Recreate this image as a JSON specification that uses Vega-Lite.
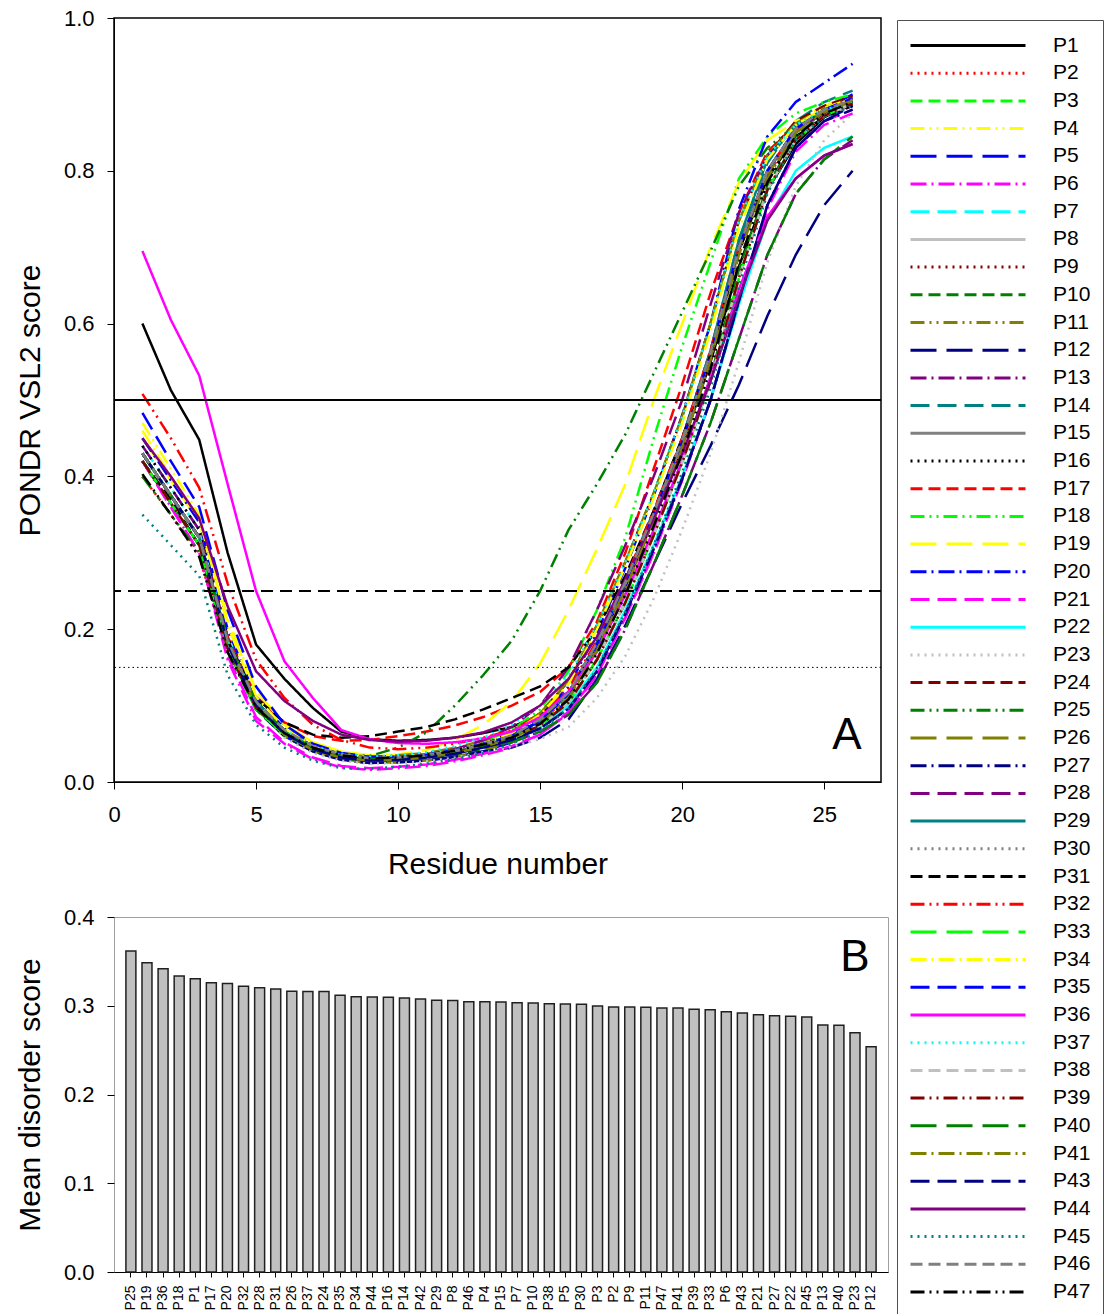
{
"$schema":"https://vega.github.io/schema/vega-lite/v6.json",
"background":"white",
"padding":{"left":14,"top":6,"right":0,"bottom":0},
"config":{"font":"Liberation Sans","axis":{"domainColor":"#000","tickColor":"#000","labelColor":"#000","titleColor":"#000","titleFontWeight":"normal","grid":false,"labelFontSize":22,"titleFontSize":30,"tickSize":7,"labelFont":"Liberation Sans","titleFont":"Liberation Sans","labelFlush":false},"legend":{"labelFont":"Liberation Sans"}},
"datasets":{
"curves":[
{"r":1,"P1":0.6,"P2":0.4,"P3":0.42,"P4":0.47,"P5":0.43,"P6":0.42,"P7":0.44,"P8":0.43,"P9":0.42,"P10":0.42,"P11":0.43,"P12":0.42,"P13":0.44,"P14":0.43,"P15":0.43,"P16":0.44,"P17":0.43,"P18":0.43,"P19":0.45,"P20":0.45,"P21":0.42,"P22":0.43,"P23":0.43,"P24":0.43,"P25":0.4,"P26":0.43,"P27":0.43,"P28":0.43,"P29":0.43,"P30":0.42,"P31":0.42,"P32":0.508,"P33":0.42,"P34":0.46,"P35":0.483,"P36":0.695,"P37":0.43,"P38":0.43,"P39":0.42,"P40":0.43,"P41":0.43,"P43":0.43,"P44":0.45,"P45":0.35,"P46":0.43,"P47":0.403},
{"r":2,"P1":0.513,"P2":0.35,"P3":0.365,"P4":0.41,"P5":0.375,"P6":0.36,"P7":0.385,"P8":0.375,"P9":0.365,"P10":0.365,"P11":0.375,"P12":0.365,"P13":0.385,"P14":0.375,"P15":0.375,"P16":0.385,"P17":0.375,"P18":0.375,"P19":0.395,"P20":0.395,"P21":0.36,"P22":0.375,"P23":0.375,"P24":0.375,"P25":0.35,"P26":0.375,"P27":0.375,"P28":0.375,"P29":0.375,"P30":0.365,"P31":0.37,"P32":0.45,"P33":0.365,"P34":0.4,"P35":0.42,"P36":0.605,"P37":0.375,"P38":0.375,"P39":0.365,"P40":0.375,"P41":0.375,"P43":0.375,"P44":0.4,"P45":0.31,"P46":0.375,"P47":0.35},
{"r":3,"P1":0.448,"P2":0.295,"P3":0.31,"P4":0.35,"P5":0.32,"P6":0.3,"P7":0.33,"P8":0.32,"P9":0.31,"P10":0.31,"P11":0.32,"P12":0.31,"P13":0.33,"P14":0.32,"P15":0.32,"P16":0.33,"P17":0.32,"P18":0.32,"P19":0.34,"P20":0.34,"P21":0.3,"P22":0.32,"P23":0.32,"P24":0.32,"P25":0.3,"P26":0.32,"P27":0.32,"P28":0.32,"P29":0.32,"P30":0.31,"P31":0.31,"P32":0.385,"P33":0.31,"P34":0.345,"P35":0.36,"P36":0.532,"P37":0.32,"P38":0.32,"P39":0.31,"P40":0.32,"P41":0.32,"P43":0.32,"P44":0.345,"P45":0.27,"P46":0.32,"P47":0.295},
{"r":4,"P1":0.3,"P2":0.17,"P3":0.175,"P4":0.215,"P5":0.18,"P6":0.16,"P7":0.19,"P8":0.185,"P9":0.175,"P10":0.175,"P11":0.18,"P12":0.175,"P13":0.19,"P14":0.185,"P15":0.185,"P16":0.19,"P17":0.19,"P18":0.185,"P19":0.21,"P20":0.2,"P21":0.165,"P22":0.18,"P23":0.18,"P24":0.185,"P25":0.17,"P26":0.185,"P27":0.18,"P28":0.185,"P29":0.185,"P30":0.178,"P31":0.185,"P32":0.26,"P33":0.175,"P34":0.205,"P35":0.225,"P36":0.39,"P37":0.185,"P38":0.183,"P39":0.175,"P40":0.185,"P41":0.18,"P43":0.18,"P44":0.23,"P45":0.14,"P46":0.185,"P47":0.17},
{"r":5,"P1":0.18,"P2":0.098,"P3":0.097,"P4":0.12,"P5":0.1,"P6":0.08,"P7":0.105,"P8":0.105,"P9":0.095,"P10":0.095,"P11":0.1,"P12":0.095,"P13":0.105,"P14":0.105,"P15":0.105,"P16":0.11,"P17":0.112,"P18":0.105,"P19":0.12,"P20":0.11,"P21":0.085,"P22":0.1,"P23":0.1,"P24":0.105,"P25":0.095,"P26":0.105,"P27":0.1,"P28":0.105,"P29":0.105,"P30":0.1,"P31":0.11,"P32":0.16,"P33":0.095,"P34":0.112,"P35":0.125,"P36":0.25,"P37":0.105,"P38":0.103,"P39":0.097,"P40":0.105,"P41":0.1,"P43":0.1,"P44":0.145,"P45":0.075,"P46":0.105,"P47":0.098},
{"r":6,"P1":0.135,"P2":0.066,"P3":0.064,"P4":0.075,"P5":0.06,"P6":0.05,"P7":0.068,"P8":0.068,"P9":0.062,"P10":0.06,"P11":0.06,"P12":0.06,"P13":0.066,"P14":0.068,"P15":0.067,"P16":0.07,"P17":0.078,"P18":0.066,"P19":0.075,"P20":0.07,"P21":0.052,"P22":0.064,"P23":0.058,"P24":0.068,"P25":0.063,"P26":0.068,"P27":0.063,"P28":0.068,"P29":0.068,"P30":0.065,"P31":0.078,"P32":0.11,"P33":0.062,"P34":0.07,"P35":0.075,"P36":0.158,"P37":0.068,"P38":0.066,"P39":0.064,"P40":0.066,"P41":0.062,"P43":0.063,"P44":0.106,"P45":0.045,"P46":0.068,"P47":0.064},
{"r":7,"P1":0.097,"P2":0.046,"P3":0.044,"P4":0.052,"P5":0.04,"P6":0.03,"P7":0.047,"P8":0.047,"P9":0.043,"P10":0.04,"P11":0.04,"P12":0.04,"P13":0.045,"P14":0.047,"P15":0.046,"P16":0.049,"P17":0.06,"P18":0.045,"P19":0.052,"P20":0.048,"P21":0.032,"P22":0.044,"P23":0.038,"P24":0.047,"P25":0.045,"P26":0.047,"P27":0.043,"P28":0.047,"P29":0.047,"P30":0.045,"P31":0.062,"P32":0.075,"P33":0.043,"P34":0.048,"P35":0.05,"P36":0.11,"P37":0.047,"P38":0.046,"P39":0.044,"P40":0.045,"P41":0.042,"P43":0.043,"P44":0.08,"P45":0.028,"P46":0.047,"P47":0.045},
{"r":8,"P1":0.066,"P2":0.035,"P3":0.034,"P4":0.04,"P5":0.029,"P6":0.019,"P7":0.036,"P8":0.036,"P9":0.033,"P10":0.03,"P11":0.029,"P12":0.029,"P13":0.034,"P14":0.036,"P15":0.035,"P16":0.038,"P17":0.054,"P18":0.035,"P19":0.04,"P20":0.037,"P21":0.021,"P22":0.034,"P23":0.028,"P24":0.036,"P25":0.036,"P26":0.037,"P27":0.032,"P28":0.036,"P29":0.036,"P30":0.035,"P31":0.058,"P32":0.055,"P33":0.033,"P34":0.037,"P35":0.038,"P36":0.068,"P37":0.037,"P38":0.035,"P39":0.034,"P40":0.034,"P41":0.032,"P43":0.032,"P44":0.062,"P45":0.018,"P46":0.036,"P47":0.035},
{"r":9,"P1":0.056,"P2":0.031,"P3":0.029,"P4":0.034,"P5":0.025,"P6":0.016,"P7":0.031,"P8":0.031,"P9":0.029,"P10":0.026,"P11":0.025,"P12":0.025,"P13":0.03,"P14":0.031,"P15":0.031,"P16":0.033,"P17":0.055,"P18":0.031,"P19":0.035,"P20":0.032,"P21":0.018,"P22":0.03,"P23":0.024,"P24":0.031,"P25":0.034,"P26":0.033,"P27":0.028,"P28":0.031,"P29":0.031,"P30":0.03,"P31":0.06,"P32":0.045,"P33":0.029,"P34":0.032,"P35":0.033,"P36":0.056,"P37":0.033,"P38":0.031,"P39":0.029,"P40":0.03,"P41":0.028,"P43":0.028,"P44":0.055,"P45":0.017,"P46":0.031,"P47":0.031},
{"r":10,"P1":0.054,"P2":0.032,"P3":0.03,"P4":0.034,"P5":0.026,"P6":0.018,"P7":0.032,"P8":0.032,"P9":0.03,"P10":0.027,"P11":0.026,"P12":0.026,"P13":0.031,"P14":0.032,"P15":0.032,"P16":0.034,"P17":0.06,"P18":0.032,"P19":0.036,"P20":0.033,"P21":0.02,"P22":0.031,"P23":0.025,"P24":0.032,"P25":0.045,"P26":0.035,"P27":0.029,"P28":0.032,"P29":0.032,"P30":0.031,"P31":0.066,"P32":0.043,"P33":0.03,"P34":0.033,"P35":0.033,"P36":0.051,"P37":0.035,"P38":0.032,"P39":0.03,"P40":0.031,"P41":0.029,"P43":0.029,"P44":0.053,"P45":0.02,"P46":0.032,"P47":0.032},
{"r":11,"P1":0.055,"P2":0.035,"P3":0.033,"P4":0.037,"P5":0.028,"P6":0.021,"P7":0.035,"P8":0.035,"P9":0.033,"P10":0.03,"P11":0.028,"P12":0.028,"P13":0.034,"P14":0.035,"P15":0.035,"P16":0.037,"P17":0.066,"P18":0.036,"P19":0.042,"P20":0.036,"P21":0.023,"P22":0.034,"P23":0.027,"P24":0.035,"P25":0.065,"P26":0.038,"P27":0.032,"P28":0.036,"P29":0.035,"P30":0.034,"P31":0.072,"P32":0.045,"P33":0.033,"P34":0.036,"P35":0.036,"P36":0.05,"P37":0.039,"P38":0.035,"P39":0.033,"P40":0.034,"P41":0.032,"P43":0.032,"P44":0.054,"P45":0.024,"P46":0.035,"P47":0.035},
{"r":12,"P1":0.058,"P2":0.041,"P3":0.039,"P4":0.043,"P5":0.033,"P6":0.027,"P7":0.041,"P8":0.041,"P9":0.039,"P10":0.035,"P11":0.033,"P12":0.033,"P13":0.04,"P14":0.041,"P15":0.041,"P16":0.043,"P17":0.074,"P18":0.043,"P19":0.055,"P20":0.042,"P21":0.029,"P22":0.04,"P23":0.032,"P24":0.041,"P25":0.1,"P26":0.045,"P27":0.037,"P28":0.043,"P29":0.041,"P30":0.04,"P31":0.082,"P32":0.05,"P33":0.039,"P34":0.042,"P35":0.042,"P36":0.052,"P37":0.047,"P38":0.041,"P39":0.039,"P40":0.04,"P41":0.038,"P43":0.037,"P44":0.058,"P45":0.03,"P46":0.041,"P47":0.041},
{"r":13,"P1":0.064,"P2":0.049,"P3":0.047,"P4":0.05,"P5":0.04,"P6":0.035,"P7":0.049,"P8":0.049,"P9":0.047,"P10":0.043,"P11":0.04,"P12":0.04,"P13":0.047,"P14":0.049,"P15":0.049,"P16":0.051,"P17":0.085,"P18":0.053,"P19":0.075,"P20":0.05,"P21":0.037,"P22":0.048,"P23":0.039,"P24":0.049,"P25":0.14,"P26":0.054,"P27":0.045,"P28":0.055,"P29":0.049,"P30":0.048,"P31":0.095,"P32":0.058,"P33":0.047,"P34":0.05,"P35":0.05,"P36":0.057,"P37":0.058,"P38":0.049,"P39":0.047,"P40":0.047,"P41":0.046,"P43":0.045,"P44":0.065,"P45":0.038,"P46":0.049,"P47":0.049},
{"r":14,"P1":0.072,"P2":0.059,"P3":0.057,"P4":0.066,"P5":0.052,"P6":0.045,"P7":0.06,"P8":0.06,"P9":0.058,"P10":0.055,"P11":0.055,"P12":0.045,"P13":0.052,"P14":0.06,"P15":0.06,"P16":0.062,"P17":0.1,"P18":0.068,"P19":0.105,"P20":0.062,"P21":0.047,"P22":0.056,"P23":0.046,"P24":0.065,"P25":0.185,"P26":0.066,"P27":0.055,"P28":0.072,"P29":0.06,"P30":0.06,"P31":0.11,"P32":0.068,"P33":0.057,"P34":0.064,"P35":0.06,"P36":0.066,"P37":0.075,"P38":0.057,"P39":0.057,"P40":0.052,"P41":0.057,"P43":0.055,"P44":0.078,"P45":0.05,"P46":0.061,"P47":0.058},
{"r":15,"P1":0.088,"P2":0.078,"P3":0.074,"P4":0.09,"P5":0.072,"P6":0.062,"P7":0.08,"P8":0.08,"P9":0.078,"P10":0.072,"P11":0.075,"P12":0.058,"P13":0.066,"P14":0.08,"P15":0.08,"P16":0.082,"P17":0.118,"P18":0.095,"P19":0.155,"P20":0.085,"P21":0.062,"P22":0.072,"P23":0.056,"P24":0.09,"P25":0.25,"P26":0.09,"P27":0.07,"P28":0.1,"P29":0.08,"P30":0.08,"P31":0.125,"P32":0.088,"P33":0.074,"P34":0.088,"P35":0.08,"P36":0.085,"P37":0.1,"P38":0.074,"P39":0.074,"P40":0.066,"P41":0.076,"P43":0.07,"P44":0.1,"P45":0.066,"P46":0.082,"P47":0.076},
{"r":16,"P1":0.118,"P2":0.112,"P3":0.104,"P4":0.132,"P5":0.108,"P6":0.092,"P7":0.115,"P8":0.115,"P9":0.113,"P10":0.104,"P11":0.11,"P12":0.082,"P13":0.088,"P14":0.117,"P15":0.115,"P16":0.118,"P17":0.15,"P18":0.145,"P19":0.225,"P20":0.125,"P21":0.09,"P22":0.1,"P23":0.072,"P24":0.132,"P25":0.33,"P26":0.132,"P27":0.096,"P28":0.15,"P29":0.116,"P30":0.115,"P31":0.15,"P32":0.122,"P33":0.104,"P34":0.128,"P35":0.115,"P36":0.118,"P37":0.14,"P38":0.104,"P39":0.104,"P40":0.088,"P41":0.11,"P43":0.096,"P44":0.135,"P45":0.096,"P46":0.117,"P47":0.108},
{"r":17,"P1":0.175,"P2":0.175,"P3":0.16,"P4":0.205,"P5":0.175,"P6":0.14,"P7":0.18,"P8":0.18,"P9":0.177,"P10":0.16,"P11":0.172,"P12":0.135,"P13":0.13,"P14":0.183,"P15":0.18,"P16":0.183,"P17":0.21,"P18":0.225,"P19":0.305,"P20":0.195,"P21":0.14,"P22":0.15,"P23":0.11,"P24":0.205,"P25":0.39,"P26":0.205,"P27":0.145,"P28":0.225,"P29":0.182,"P30":0.18,"P31":0.2,"P32":0.185,"P33":0.16,"P34":0.2,"P35":0.18,"P36":0.17,"P37":0.205,"P38":0.16,"P39":0.16,"P40":0.13,"P41":0.172,"P43":0.145,"P44":0.19,"P45":0.148,"P46":0.182,"P47":0.168},
{"r":18,"P1":0.255,"P2":0.255,"P3":0.235,"P4":0.288,"P5":0.258,"P6":0.215,"P7":0.26,"P8":0.26,"P9":0.256,"P10":0.235,"P11":0.252,"P12":0.205,"P13":0.2,"P14":0.265,"P15":0.26,"P16":0.263,"P17":0.3,"P18":0.32,"P19":0.39,"P20":0.28,"P21":0.215,"P22":0.225,"P23":0.165,"P24":0.288,"P25":0.455,"P26":0.288,"P27":0.22,"P28":0.31,"P29":0.262,"P30":0.26,"P31":0.27,"P32":0.265,"P33":0.235,"P34":0.282,"P35":0.26,"P36":0.245,"P37":0.288,"P38":0.235,"P39":0.235,"P40":0.2,"P41":0.252,"P43":0.22,"P44":0.265,"P45":0.222,"P46":0.262,"P47":0.245},
{"r":19,"P1":0.345,"P2":0.345,"P3":0.323,"P4":0.378,"P5":0.35,"P6":0.3,"P7":0.35,"P8":0.35,"P9":0.345,"P10":0.325,"P11":0.342,"P12":0.285,"P13":0.285,"P14":0.355,"P15":0.35,"P16":0.353,"P17":0.41,"P18":0.45,"P19":0.5,"P20":0.375,"P21":0.3,"P22":0.31,"P23":0.24,"P24":0.378,"P25":0.535,"P26":0.378,"P27":0.305,"P28":0.4,"P29":0.352,"P30":0.35,"P31":0.355,"P32":0.355,"P33":0.323,"P34":0.372,"P35":0.35,"P36":0.33,"P37":0.378,"P38":0.323,"P39":0.323,"P40":0.285,"P41":0.342,"P43":0.305,"P44":0.345,"P45":0.31,"P46":0.352,"P47":0.335},
{"r":20,"P1":0.44,"P2":0.44,"P3":0.418,"P4":0.478,"P5":0.445,"P6":0.395,"P7":0.445,"P8":0.445,"P9":0.44,"P10":0.42,"P11":0.44,"P12":0.365,"P13":0.375,"P14":0.45,"P15":0.445,"P16":0.448,"P17":0.52,"P18":0.57,"P19":0.6,"P20":0.48,"P21":0.395,"P22":0.4,"P23":0.33,"P24":0.478,"P25":0.615,"P26":0.478,"P27":0.397,"P28":0.5,"P29":0.448,"P30":0.445,"P31":0.45,"P32":0.45,"P33":0.418,"P34":0.47,"P35":0.445,"P36":0.42,"P37":0.478,"P38":0.418,"P39":0.418,"P40":0.375,"P41":0.438,"P43":0.397,"P44":0.43,"P45":0.405,"P46":0.447,"P47":0.43},
{"r":21,"P1":0.55,"P2":0.555,"P3":0.525,"P4":0.6,"P5":0.56,"P6":0.5,"P7":0.56,"P8":0.56,"P9":0.555,"P10":0.53,"P11":0.555,"P12":0.44,"P13":0.47,"P14":0.565,"P15":0.56,"P16":0.562,"P17":0.64,"P18":0.68,"P19":0.7,"P20":0.6,"P21":0.5,"P22":0.5,"P23":0.43,"P24":0.6,"P25":0.695,"P26":0.6,"P27":0.5,"P28":0.625,"P29":0.565,"P30":0.56,"P31":0.56,"P32":0.565,"P33":0.525,"P34":0.59,"P35":0.56,"P36":0.53,"P37":0.6,"P38":0.525,"P39":0.525,"P40":0.47,"P41":0.552,"P43":0.5,"P44":0.525,"P45":0.515,"P46":0.562,"P47":0.54},
{"r":22,"P1":0.675,"P2":0.695,"P3":0.66,"P4":0.735,"P5":0.7,"P6":0.63,"P7":0.7,"P8":0.7,"P9":0.695,"P10":0.67,"P11":0.695,"P12":0.52,"P13":0.58,"P14":0.71,"P15":0.7,"P16":0.7,"P17":0.745,"P18":0.79,"P19":0.785,"P20":0.75,"P21":0.63,"P22":0.625,"P23":0.55,"P24":0.735,"P25":0.78,"P26":0.735,"P27":0.63,"P28":0.745,"P29":0.71,"P30":0.7,"P31":0.695,"P32":0.7,"P33":0.66,"P34":0.725,"P35":0.7,"P36":0.645,"P37":0.735,"P38":0.66,"P39":0.66,"P40":0.58,"P41":0.69,"P43":0.63,"P44":0.635,"P45":0.65,"P46":0.7,"P47":0.68},
{"r":23,"P1":0.775,"P2":0.795,"P3":0.775,"P4":0.82,"P5":0.8,"P6":0.75,"P7":0.8,"P8":0.8,"P9":0.795,"P10":0.78,"P11":0.795,"P12":0.61,"P13":0.69,"P14":0.81,"P15":0.8,"P16":0.8,"P17":0.825,"P18":0.845,"P19":0.84,"P20":0.845,"P21":0.755,"P22":0.735,"P23":0.68,"P24":0.82,"P25":0.83,"P26":0.82,"P27":0.755,"P28":0.82,"P29":0.815,"P30":0.8,"P31":0.79,"P32":0.8,"P33":0.775,"P34":0.815,"P35":0.8,"P36":0.74,"P37":0.82,"P38":0.775,"P39":0.775,"P40":0.69,"P41":0.79,"P43":0.755,"P44":0.735,"P45":0.77,"P46":0.8,"P47":0.785},
{"r":24,"P1":0.835,"P2":0.85,"P3":0.84,"P4":0.865,"P5":0.855,"P6":0.825,"P7":0.85,"P8":0.855,"P9":0.85,"P10":0.845,"P11":0.85,"P12":0.69,"P13":0.77,"P14":0.865,"P15":0.85,"P16":0.855,"P17":0.86,"P18":0.875,"P19":0.865,"P20":0.89,"P21":0.83,"P22":0.8,"P23":0.78,"P24":0.865,"P25":0.86,"P26":0.862,"P27":0.83,"P28":0.855,"P29":0.86,"P30":0.855,"P31":0.845,"P32":0.855,"P33":0.84,"P34":0.86,"P35":0.855,"P36":0.79,"P37":0.86,"P38":0.84,"P39":0.84,"P40":0.77,"P41":0.85,"P43":0.83,"P44":0.79,"P45":0.84,"P46":0.855,"P47":0.845},
{"r":25,"P1":0.87,"P2":0.875,"P3":0.872,"P4":0.885,"P5":0.88,"P6":0.86,"P7":0.875,"P8":0.88,"P9":0.878,"P10":0.875,"P11":0.877,"P12":0.755,"P13":0.815,"P14":0.89,"P15":0.877,"P16":0.88,"P17":0.88,"P18":0.89,"P19":0.88,"P20":0.915,"P21":0.865,"P22":0.83,"P23":0.84,"P24":0.885,"P25":0.875,"P26":0.882,"P27":0.865,"P28":0.875,"P29":0.88,"P30":0.88,"P31":0.87,"P32":0.88,"P33":0.872,"P34":0.882,"P35":0.88,"P36":0.82,"P37":0.88,"P38":0.872,"P39":0.872,"P40":0.815,"P41":0.877,"P43":0.865,"P44":0.82,"P45":0.87,"P46":0.88,"P47":0.875},
{"r":26,"P1":0.89,"P2":0.89,"P3":0.888,"P4":0.898,"P5":0.9,"P6":0.875,"P7":0.89,"P8":0.895,"P9":0.893,"P10":0.89,"P11":0.892,"P12":0.8,"P13":0.84,"P14":0.905,"P15":0.892,"P16":0.895,"P17":0.895,"P18":0.9,"P19":0.895,"P20":0.94,"P21":0.88,"P22":0.845,"P23":0.875,"P24":0.898,"P25":0.885,"P26":0.895,"P27":0.88,"P28":0.885,"P29":0.89,"P30":0.895,"P31":0.885,"P32":0.895,"P33":0.888,"P34":0.895,"P35":0.895,"P36":0.835,"P37":0.89,"P38":0.888,"P39":0.888,"P40":0.845,"P41":0.892,"P43":0.885,"P44":0.835,"P45":0.885,"P46":0.893,"P47":0.89}
],
"bars":[
{"p":"P25","v":0.3617},{"p":"P19","v":0.3485},{"p":"P36","v":0.3418},{"p":"P18","v":0.3335},{"p":"P1","v":0.3305},{"p":"P17","v":0.326},{"p":"P20","v":0.3252},{"p":"P32","v":0.3219},{"p":"P28","v":0.3203},{"p":"P31","v":0.3189},{"p":"P26","v":0.3162},{"p":"P37","v":0.316},{"p":"P24","v":0.316},{"p":"P35","v":0.3118},{"p":"P34","v":0.3102},{"p":"P44","v":0.31},{"p":"P16","v":0.3095},{"p":"P14","v":0.3087},{"p":"P42","v":0.3076},{"p":"P29","v":0.3061},{"p":"P8","v":0.306},{"p":"P46","v":0.3046},{"p":"P4","v":0.3046},{"p":"P15","v":0.3042},{"p":"P7","v":0.3035},{"p":"P10","v":0.3031},{"p":"P38","v":0.3023},{"p":"P5","v":0.302},{"p":"P30","v":0.3016},{"p":"P3","v":0.2997},{"p":"P2","v":0.2986},{"p":"P9","v":0.2986},{"p":"P11","v":0.2982},{"p":"P47","v":0.2975},{"p":"P41","v":0.2975},{"p":"P39","v":0.296},{"p":"P33","v":0.2956},{"p":"P6","v":0.2933},{"p":"P43","v":0.2918},{"p":"P21","v":0.2899},{"p":"P27","v":0.2888},{"p":"P22","v":0.2881},{"p":"P45","v":0.2873},{"p":"P13","v":0.2783},{"p":"P40","v":0.278},{"p":"P23","v":0.2697},{"p":"P12","v":0.2539}
]
},
"spacing":25,
"vconcat":[
{
"width":767,"height":764,
"view":{"stroke":"#000","strokeWidth":1.5},
"layer":[
{
"data":{"name":"curves"},
"transform":[{"fold":["P1","P2","P3","P4","P5","P6","P7","P8","P9","P10","P11","P12","P13","P14","P15","P16","P17","P18","P19","P20","P21","P22","P23","P24","P25","P26","P27","P28","P29","P30","P31","P32","P33","P34","P35","P36","P37","P38","P39","P40","P41","P43","P44","P45","P46","P47"],"as":["p","v"]}],
"mark":{"type":"line","strokeWidth":2.5},
"encoding":{
"x":{"field":"r","type":"quantitative","scale":{"domain":[0,27],"nice":false,"zero":false},"axis":{"title":"Residue number","values":[0,5,10,15,20,25],"format":"d","labelPadding":15,"titlePadding":24}},
"y":{"field":"v","type":"quantitative","scale":{"domain":[0,1],"nice":false},"axis":{"title":"PONDR VSL2 score","values":[0,0.2,0.4,0.6,0.8,1.0],"format":".1f","labelPadding":13,"titlePadding":18}},
"color":{"field":"p","type":"nominal",
"scale":{"domain":["P1","P2","P3","P4","P5","P6","P7","P8","P9","P10","P11","P12","P13","P14","P15","P16","P17","P18","P19","P20","P21","P22","P23","P24","P25","P26","P27","P28","P29","P30","P31","P32","P33","P34","P35","P36","P37","P38","P39","P40","P41","P43","P44","P45","P46","P47"],
"range":["#000000","#ff0000","#00ff00","#ffff00","#0000ff","#ff00ff","#00ffff","#c0c0c0","#800000","#008000","#808000","#000080","#800080","#008080","#808080","#000000","#ff0000","#00ff00","#ffff00","#0000ff","#ff00ff","#00ffff","#c0c0c0","#800000","#008000","#808000","#000080","#800080","#008080","#808080","#000000","#ff0000","#00ff00","#ffff00","#0000ff","#ff00ff","#00ffff","#c0c0c0","#800000","#008000","#808000","#000080","#800080","#008080","#808080","#000000"]},
"legend":{"title":null,"orient":"none","legendX":783,"legendY":2,"symbolType":"stroke","symbolSize":13225,"symbolStrokeWidth":3,"clipHeight":27,"rowPadding":0.7,"labelFontSize":21,"labelColor":"#000","labelOffset":26,"padding":12,"strokeColor":"#505050","symbolLimit":60,"labelExpr":"datum.label + '      '"}},
"strokeDash":{"field":"p","type":"nominal",
"scale":{"domain":["P1","P2","P3","P4","P5","P6","P7","P8","P9","P10","P11","P12","P13","P14","P15","P16","P17","P18","P19","P20","P21","P22","P23","P24","P25","P26","P27","P28","P29","P30","P31","P32","P33","P34","P35","P36","P37","P38","P39","P40","P41","P43","P44","P45","P46","P47"],
"range":[[1,0],[2,5],[12,6],[14,5,2,5,2,5],[26,10],[16,5,2,5],[19,8],[1,0],[2,5],[12,6],[14,5,2,5,2,5],[26,10],[16,5,2,5],[19,8],[1,0],[2,5],[12,6],[14,5,2,5,2,5],[26,10],[16,5,2,5],[19,8],[1,0],[2,5],[12,6],[14,5,2,5,2,5],[26,10],[16,5,2,5],[19,8],[1,0],[2,5],[12,6],[14,5,2,5,2,5],[26,10],[16,5,2,5],[19,8],[1,0],[2,5],[12,6],[14,5,2,5,2,5],[26,10],[16,5,2,5],[19,8],[1,0],[2,5],[12,6],[14,5,2,5,2,5]]}}
}
},
{"data":{"values":[{"v":0.5}]},"mark":{"type":"rule","color":"#000","strokeWidth":2},"encoding":{"y":{"field":"v","type":"quantitative","title":"PONDR VSL2 score"}}},
{"data":{"values":[{"v":0.25}]},"mark":{"type":"rule","color":"#000","strokeWidth":2,"strokeDash":[12,7]},"encoding":{"y":{"field":"v","type":"quantitative","title":"PONDR VSL2 score"}}},
{"data":{"values":[{"v":0.15}]},"mark":{"type":"rule","color":"#000","strokeWidth":1,"strokeDash":[1.5,3]},"encoding":{"y":{"field":"v","type":"quantitative","title":"PONDR VSL2 score"}}},
{"data":{"values":[{"r":25.8,"v":0.06,"t":"A"}]},"mark":{"type":"text","fontSize":44,"color":"#000","baseline":"middle","align":"center"},"encoding":{"x":{"field":"r","type":"quantitative","title":"Residue number"},"y":{"field":"v","type":"quantitative","title":"PONDR VSL2 score"},"text":{"field":"t"}}}
]
},
{
"width":774,"height":355,
"view":{"stroke":"#a0a0a0"},
"layer":[
{
"data":{"name":"bars"},
"mark":{"type":"bar","fill":"#c0c0c0","stroke":"#202020","strokeWidth":1.5},
"encoding":{
"x":{"field":"p","type":"nominal","sort":null,"scale":{"domain":["P25","P19","P36","P18","P1","P17","P20","P32","P28","P31","P26","P37","P24","P35","P34","P44","P16","P14","P42","P29","P8","P46","P4","P15","P7","P10","P38","P5","P30","P3","P2","P9","P11","P47","P41","P39","P33","P6","P43","P21","P27","P22","P45","P13","P40","P23","P12"],"paddingInner":0.38,"paddingOuter":0.74},"axis":{"title":null,"labelAngle":270,"labelFontSize":14,"tickSize":5,"labelPadding":8}},
"y":{"field":"v","type":"quantitative","scale":{"domain":[0,0.4],"nice":false},"axis":{"title":"Mean disorder score","values":[0,0.1,0.2,0.3,0.4],"format":".1f","labelPadding":13,"titlePadding":18,"domain":false}}
}
},
{"data":{"values":[{"p":"P23","v":0.354,"t":"B"}]},"mark":{"type":"text","fontSize":44,"color":"#000","baseline":"middle","align":"center"},"encoding":{"x":{"field":"p","type":"nominal"},"y":{"field":"v","type":"quantitative","title":"Mean disorder score"},"text":{"field":"t"}}}
]
}
]
}
